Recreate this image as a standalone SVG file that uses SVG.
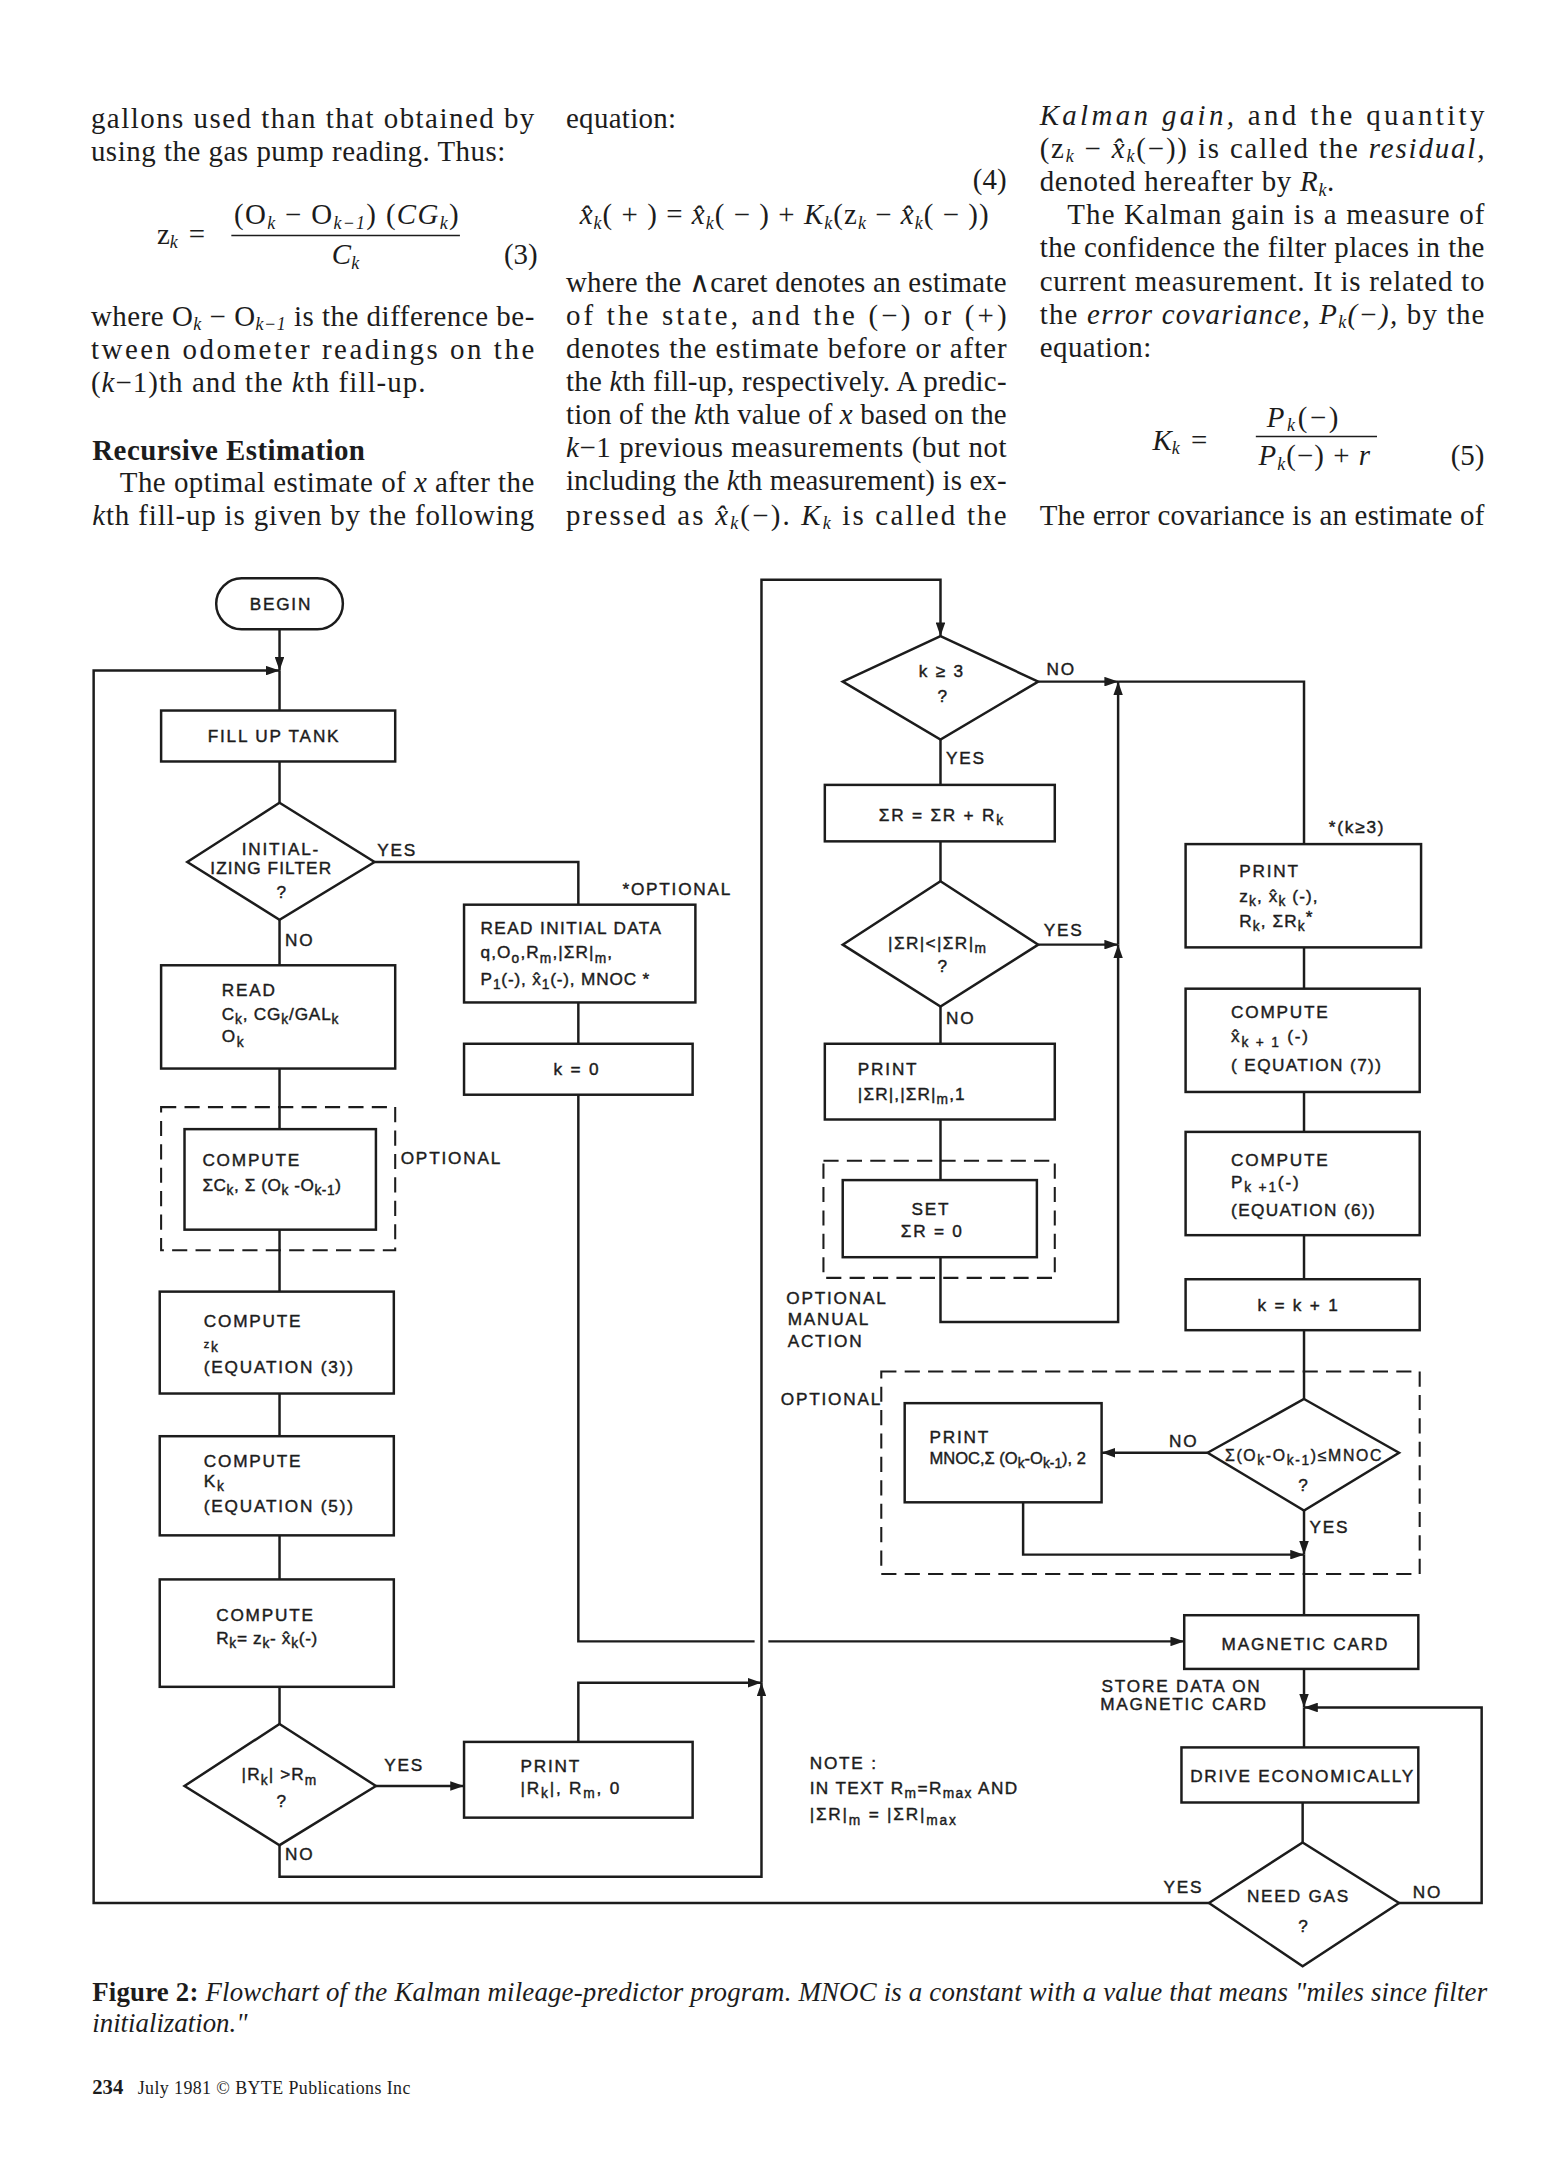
<svg xmlns="http://www.w3.org/2000/svg" width="1544" height="2160" viewBox="0 0 1544 2160">
<defs>
<style>
.b{font-family:"Liberation Serif","Times New Roman",serif;font-size:21px;fill:#1c1c1c}
.it{font-style:italic}
.sk{font-size:13px;font-style:italic}
.c{font-family:"Liberation Sans",Arial,sans-serif;font-size:12.5px;letter-spacing:1.3px;fill:#1c1c1c;stroke:#1c1c1c;stroke-width:0.3}
.cs{font-size:10px}
.n{fill:#fff;stroke:#1c1c1c;stroke-width:1.8}
.d{fill:none;stroke:#1c1c1c;stroke-width:1.5;stroke-dasharray:11 6}
.e{fill:none;stroke:#1c1c1c;stroke-width:1.8}
.a{marker-end:url(#ah)}
</style>
<marker id="ah" viewBox="0 0 10 7" refX="10" refY="3.5" markerWidth="10" markerHeight="7" orient="auto" markerUnits="userSpaceOnUse"><path d="M0,0 L10,3.5 L0,7 z" fill="#1c1c1c"/></marker>
</defs>
<rect width="1544" height="2160" fill="#fff"/>
<g transform="scale(1.377)">
<!-- body text column 1 -->
<g id="text-col1">
<text class="b" x="66" y="93" textLength="322" lengthAdjust="spacing">gallons used than that obtained by</text>
<text class="b" x="66" y="117" textLength="301" lengthAdjust="spacing">using the gas pump reading. Thus:</text>
<text class="b" x="114" y="177">z<tspan class="sk" dy="3">k</tspan><tspan dy="-3" x="137">=</tspan></text>
<text class="b" x="170" y="163" textLength="163" lengthAdjust="spacing">(O<tspan class="sk" dy="3">k</tspan><tspan dy="-3">  −  O</tspan><tspan class="sk" dy="3">k−1</tspan><tspan dy="-3">) (</tspan><tspan class="it">CG</tspan><tspan class="sk" dy="3">k</tspan><tspan dy="-3">)</tspan></text>
<line x1="168" y1="171" x2="334" y2="171" stroke="#1c1c1c" stroke-width="1.2"/>
<text class="b" x="241" y="192"><tspan class="it">C</tspan><tspan class="sk" dy="3">k</tspan></text>
<text class="b" x="366" y="192">(3)</text>
<text class="b" x="66" y="237" textLength="322" lengthAdjust="spacing">where O<tspan class="sk" dy="3">k</tspan><tspan dy="-3">  −  O</tspan><tspan class="sk" dy="3">k−1</tspan><tspan dy="-3"> is the difference be-</tspan></text>
<text class="b" x="66" y="261" textLength="322" lengthAdjust="spacing">tween odometer readings on the</text>
<text class="b" x="66" y="285" textLength="243" lengthAdjust="spacing">(<tspan class="it">k</tspan>−1)th and the <tspan class="it">k</tspan>th fill-up.</text>
<text class="b" x="67" y="334" style="font-weight:bold;font-size:21px" textLength="198" lengthAdjust="spacing">Recursive Estimation</text>
<text class="b" x="87" y="357" textLength="301" lengthAdjust="spacing">The optimal estimate of <tspan class="it">x</tspan> after the</text>
<text class="b" x="67" y="381" textLength="321" lengthAdjust="spacing"><tspan class="it">k</tspan>th fill-up is given by the following</text>
</g>
<!-- body text column 2 -->
<g id="text-col2">
<text class="b" x="411" y="93" textLength="80" lengthAdjust="spacing">equation:</text>
<text class="b" x="731" y="137" text-anchor="end">(4)</text>
<text class="b" x="421" y="163" textLength="297" lengthAdjust="spacing"><tspan class="it">x̂</tspan><tspan class="sk" dy="3">k</tspan><tspan dy="-3">( + )  =  </tspan><tspan class="it">x̂</tspan><tspan class="sk" dy="3">k</tspan><tspan dy="-3">( − )  +  </tspan><tspan class="it">K</tspan><tspan class="sk" dy="3">k</tspan><tspan dy="-3">(z</tspan><tspan class="sk" dy="3">k</tspan><tspan dy="-3">  −  </tspan><tspan class="it">x̂</tspan><tspan class="sk" dy="3">k</tspan><tspan dy="-3">( − ))</tspan></text>
<text class="b" x="411" y="212" textLength="320" lengthAdjust="spacing">where the ∧caret denotes an estimate</text>
<text class="b" x="411" y="236" textLength="320" lengthAdjust="spacing">of the state, and the (−) or (+)</text>
<text class="b" x="411" y="260" textLength="320" lengthAdjust="spacing">denotes the estimate before or after</text>
<text class="b" x="411" y="284" textLength="320" lengthAdjust="spacing">the <tspan class="it">k</tspan>th fill-up, respectively. A predic-</text>
<text class="b" x="411" y="308" textLength="320" lengthAdjust="spacing">tion of the <tspan class="it">k</tspan>th value of <tspan class="it">x</tspan> based on the</text>
<text class="b" x="411" y="332" textLength="320" lengthAdjust="spacing"><tspan class="it">k</tspan>−1 previous measurements (but not</text>
<text class="b" x="411" y="356" textLength="320" lengthAdjust="spacing">including the <tspan class="it">k</tspan>th measurement) is ex-</text>
<text class="b" x="411" y="381" textLength="320" lengthAdjust="spacing">pressed as <tspan class="it">x̂</tspan><tspan class="sk" dy="3">k</tspan><tspan dy="-3">(−).  </tspan><tspan class="it">K</tspan><tspan class="sk" dy="3">k</tspan><tspan dy="-3">  is called the</tspan></text>
</g>
<!-- body text column 3 -->
<g id="text-col3">
<text class="b" x="755" y="91" textLength="323" lengthAdjust="spacing"><tspan class="it">Kalman gain,</tspan> and the quantity</text>
<text class="b" x="755" y="115" textLength="323" lengthAdjust="spacing">(z<tspan class="sk" dy="3">k</tspan><tspan dy="-3"> − </tspan><tspan class="it">x̂</tspan><tspan class="sk" dy="3">k</tspan><tspan dy="-3">(−)) is called the </tspan><tspan class="it">residual,</tspan></text>
<text class="b" x="755" y="139" textLength="214" lengthAdjust="spacing">denoted hereafter by <tspan class="it">R</tspan><tspan class="sk" dy="3">k</tspan><tspan dy="-3">.</tspan></text>
<text class="b" x="775" y="163" textLength="303" lengthAdjust="spacing">The Kalman gain is a measure of</text>
<text class="b" x="755" y="187" textLength="323" lengthAdjust="spacing">the confidence the filter places in the</text>
<text class="b" x="755" y="211" textLength="323" lengthAdjust="spacing">current measurement. It is related to</text>
<text class="b" x="755" y="235" textLength="323" lengthAdjust="spacing">the <tspan class="it">error covariance, P</tspan><tspan class="sk" dy="3">k</tspan><tspan dy="-3" class="it">(−),</tspan> by the</text>
<text class="b" x="755" y="259" textLength="81" lengthAdjust="spacing">equation:</text>
<text class="b" x="837" y="327"><tspan class="it">K</tspan><tspan class="sk" dy="3">k</tspan><tspan dy="-3" x="865">=</tspan></text>
<text class="b" x="920" y="310" textLength="52" lengthAdjust="spacing"><tspan class="it">P</tspan><tspan class="sk" dy="3">k</tspan><tspan dy="-3">(−)</tspan></text>
<line x1="912" y1="317" x2="1000" y2="317" stroke="#1c1c1c" stroke-width="1.2"/>
<text class="b" x="914" y="338" textLength="81" lengthAdjust="spacing"><tspan class="it">P</tspan><tspan class="sk" dy="3">k</tspan><tspan dy="-3">(−) + </tspan><tspan class="it">r</tspan></text>
<text class="b" x="1078" y="338" text-anchor="end">(5)</text>
<text class="b" x="755" y="381" textLength="323" lengthAdjust="spacing">The error covariance is an estimate of</text>
</g>

<!-- connectors -->
<g id="connectors">
<path class="e a" d="M203 457 V487"/>
<path class="e a" d="M878 1382 H68 V487 H203"/>
<path class="e" d="M203 487 V516"/>
<path class="e" d="M203 553 V583"/>
<path class="e" d="M272 626 H420 V657"/>
<path class="e" d="M203 668 V701"/>
<path class="e" d="M203 776 V820"/>
<path class="e" d="M203 893 V938"/>
<path class="e" d="M203 1012 V1043"/>
<path class="e" d="M203 1115 V1147"/>
<path class="e" d="M203 1225 V1252"/>
<path class="e a" d="M273 1297 H337"/>
<path class="e a" d="M203 1340 V1363 H553 V1222"/>
<path class="e a" d="M420 1265 V1222 H553"/>
<path class="e a" d="M553 1222 V421 H683 V462"/>
<path class="e" d="M420 728 V758"/>
<path class="e" d="M420 795 V1192 H548"/>
<path class="e a" d="M558 1192 H860"/>
<path class="e a" d="M754 495 H812"/>
<path class="e" d="M812 495 H947 V613"/>
<path class="e" d="M683 537 V570"/>
<path class="e" d="M683 611 V640"/>
<path class="e a" d="M754 686 H812"/>
<path class="e" d="M683 731 V758"/>
<path class="e" d="M683 813 V857"/>
<path class="e a" d="M683 913 V960 H812 V686"/>
<path class="e a" d="M812 686 V495"/>
<path class="e" d="M947 688 V718"/>
<path class="e" d="M947 793 V822"/>
<path class="e" d="M947 897 V929"/>
<path class="e" d="M947 966 V1016"/>
<path class="e a" d="M877 1055 H800"/>
<path class="e a" d="M743 1091 V1129 H947"/>
<path class="e a" d="M947 1097 V1129"/>
<path class="e" d="M947 1129 V1173"/>
<path class="e a" d="M947 1212 V1240"/>
<path class="e" d="M947 1240 V1269"/>
<path class="e a" d="M1016 1382 H1076 V1240 H947"/>
<path class="e" d="M946 1309 V1338"/>
</g>

<!-- nodes -->
<g id="begin"><rect class="n" x="157" y="420" width="92" height="37" rx="18.5"/><text class="c" x="204" y="443" text-anchor="middle">BEGIN</text></g>
<g id="fill-up-tank"><rect class="n" x="117" y="516" width="170" height="37"/><text class="c" x="199" y="539" text-anchor="middle">FILL UP TANK</text></g>
<g id="initializing-filter"><polygon class="n" points="203,583 272,626 203,668 136,626"/><text class="c" x="204" y="621" text-anchor="middle">INITIAL-</text><text class="c" x="197" y="635" text-anchor="middle" style="letter-spacing:0.8px">IZING FILTER</text><text class="c" x="205" y="652" text-anchor="middle">?</text></g>
<g id="read-initial-data"><rect class="n" x="337" y="657" width="168" height="71"/><text class="c" x="349" y="678" style="letter-spacing:1px">READ INITIAL DATA</text><text class="c" x="349" y="696" style="letter-spacing:0.8px">q,O<tspan class="cs" dy="3">o</tspan><tspan dy="-3">,R</tspan><tspan class="cs" dy="3">m</tspan><tspan dy="-3">,|ΣR|</tspan><tspan class="cs" dy="3">m</tspan><tspan dy="-3">,</tspan></text><text class="c" x="349" y="715" style="letter-spacing:0.6px">P<tspan class="cs" dy="3">1</tspan><tspan dy="-3">(-), x̂</tspan><tspan class="cs" dy="3">1</tspan><tspan dy="-3">(-), MNOC *</tspan></text></g>
<g id="k-zero"><rect class="n" x="337" y="758" width="166" height="37"/><text class="c" x="419" y="781" text-anchor="middle">k = 0</text></g>
<g id="read"><rect class="n" x="117" y="701" width="170" height="75"/><text class="c" x="161" y="723">READ</text><text class="c" x="161" y="741" style="letter-spacing:0.6px">C<tspan class="cs" dy="3">k</tspan><tspan dy="-3">, CG</tspan><tspan class="cs" dy="3">k</tspan><tspan dy="-3">/GAL</tspan><tspan class="cs" dy="3">k</tspan></text><text class="c" x="161" y="757">O<tspan class="cs" dy="3">k</tspan></text></g>
<g id="compute-sums"><rect class="d" x="117" y="804" width="170" height="104"/><rect class="n" x="134" y="820" width="139" height="73"/><text class="c" x="147" y="847">COMPUTE</text><text class="c" x="147" y="865" style="letter-spacing:0.4px">ΣC<tspan class="cs" dy="3">k</tspan><tspan dy="-3">, Σ (O</tspan><tspan class="cs" dy="3">k</tspan><tspan dy="-3"> -O</tspan><tspan class="cs" dy="3">k-1</tspan><tspan dy="-3">)</tspan></text><text class="c" x="291" y="845">OPTIONAL</text></g>
<g id="compute-z"><rect class="n" x="116" y="938" width="170" height="74"/><text class="c" x="148" y="964">COMPUTE</text><text class="c" x="148" y="979"><tspan class="cs" style="font-size:8px">z</tspan><tspan dy="3" class="cs">k</tspan></text><text class="c" x="148" y="997">(EQUATION (3))</text></g>
<g id="compute-k"><rect class="n" x="116" y="1043" width="170" height="72"/><text class="c" x="148" y="1065">COMPUTE</text><text class="c" x="148" y="1080">K<tspan class="cs" dy="3">k</tspan></text><text class="c" x="148" y="1098">(EQUATION (5))</text></g>
<g id="compute-r"><rect class="n" x="116" y="1147" width="170" height="78"/><text class="c" x="157" y="1177">COMPUTE</text><text class="c" x="157" y="1194" style="letter-spacing:0.5px">R<tspan class="cs" dy="3">k</tspan><tspan dy="-3">= z</tspan><tspan class="cs" dy="3">k</tspan><tspan dy="-3">- x̂</tspan><tspan class="cs" dy="3">k</tspan><tspan dy="-3">(-)</tspan></text></g>
<g id="rk-greater-rm"><polygon class="n" points="203,1252 273,1297 203,1340 134,1297"/><text class="c" x="203" y="1293" text-anchor="middle" style="letter-spacing:0.8px">|R<tspan class="cs" dy="3">k</tspan><tspan dy="-3">| &gt;R</tspan><tspan class="cs" dy="3">m</tspan></text><text class="c" x="205" y="1312" text-anchor="middle">?</text></g>
<g id="print-rk"><rect class="n" x="337" y="1265" width="166" height="55"/><text class="c" x="378" y="1287">PRINT</text><text class="c" x="378" y="1303">|R<tspan class="cs" dy="3">k</tspan><tspan dy="-3">|, R</tspan><tspan class="cs" dy="3">m</tspan><tspan dy="-3">, 0</tspan></text></g>
<g id="k-ge-3"><polygon class="n" points="683,462 754,495 683,537 612,495"/><text class="c" x="684" y="492" text-anchor="middle">k ≥ 3</text><text class="c" x="685" y="510" text-anchor="middle">?</text></g>
<g id="sum-r"><rect class="n" x="599" y="570" width="167" height="41"/><text class="c" x="684" y="596" text-anchor="middle">ΣR = ΣR + R<tspan class="cs" dy="3">k</tspan></text></g>
<g id="sum-r-check"><polygon class="n" points="683,640 754,686 683,731 612,686"/><text class="c" x="681" y="689" text-anchor="middle" style="letter-spacing:1px">|ΣR|&lt;|ΣR|<tspan class="cs" dy="3">m</tspan></text><text class="c" x="685" y="706" text-anchor="middle">?</text></g>
<g id="print-sum-r"><rect class="n" x="599" y="758" width="167" height="55"/><text class="c" x="623" y="781">PRINT</text><text class="c" x="623" y="799" style="letter-spacing:0.8px">|ΣR|,|ΣR|<tspan class="cs" dy="3">m</tspan><tspan dy="-3">,1</tspan></text></g>
<g id="set-sum-r"><rect class="d" x="598" y="843" width="168" height="85"/><rect class="n" x="612" y="857" width="141" height="56"/><text class="c" x="676" y="882" text-anchor="middle">SET</text><text class="c" x="677" y="898" text-anchor="middle">ΣR = 0</text><text class="c" x="571" y="947">OPTIONAL</text><text class="c" x="572" y="962">MANUAL</text><text class="c" x="572" y="978">ACTION</text></g>
<g id="print-state"><rect class="n" x="861" y="613" width="171" height="75"/><text class="c" x="965" y="605">*(k≥3)</text><text class="c" x="900" y="637">PRINT</text><text class="c" x="900" y="655" style="letter-spacing:0.8px">z<tspan class="cs" dy="3">k</tspan><tspan dy="-3">, x̂</tspan><tspan class="cs" dy="3">k</tspan><tspan dy="-3"> (-),</tspan></text><text class="c" x="900" y="673" style="letter-spacing:0.8px">R<tspan class="cs" dy="3">k</tspan><tspan dy="-3">, ΣR</tspan><tspan class="cs" dy="3">k</tspan><tspan dy="-6">*</tspan></text></g>
<g id="compute-x"><rect class="n" x="861" y="718" width="170" height="75"/><text class="c" x="894" y="739">COMPUTE</text><text class="c" x="894" y="757">x̂<tspan class="cs" dy="3">k + 1</tspan><tspan dy="-3"> (-)</tspan></text><text class="c" x="894" y="778" style="letter-spacing:1px">( EQUATION (7))</text></g>
<g id="compute-p"><rect class="n" x="861" y="822" width="170" height="75"/><text class="c" x="894" y="847">COMPUTE</text><text class="c" x="894" y="863">P<tspan class="cs" dy="3">k +1</tspan><tspan dy="-3">(-)</tspan></text><text class="c" x="894" y="883" style="letter-spacing:1px">(EQUATION (6))</text></g>
<g id="k-increment"><rect class="n" x="861" y="929" width="170" height="37"/><text class="c" x="943" y="952" text-anchor="middle">k = k + 1</text></g>
<g id="mnoc-check"><rect class="d" x="640" y="996" width="391" height="147"/><text class="c" x="567" y="1020">OPTIONAL</text><polygon class="n" points="947,1016 1016,1055 947,1097 877,1055"/><text class="c" x="947" y="1061" text-anchor="middle" style="letter-spacing:1.2px;font-size:11.5px">Σ(O<tspan class="cs" dy="3">k</tspan><tspan dy="-3">-O</tspan><tspan class="cs" dy="3">k-1</tspan><tspan dy="-3">)≤MNOC</tspan></text><text class="c" x="947" y="1083" text-anchor="middle">?</text></g>
<g id="print-mnoc"><rect class="n" x="657" y="1019" width="143" height="72"/><text class="c" x="675" y="1048">PRINT</text><text class="c" x="675" y="1063" style="letter-spacing:0px;font-size:12px">MNOC,Σ (O<tspan class="cs" dy="3">k</tspan><tspan dy="-3">-O</tspan><tspan class="cs" dy="3">k-1</tspan><tspan dy="-3">), 2</tspan></text></g>
<g id="magnetic-card"><rect class="n" x="860" y="1173" width="170" height="39"/><text class="c" x="948" y="1198" text-anchor="middle">MAGNETIC CARD</text><text class="c" x="800" y="1229">STORE DATA ON</text><text class="c" x="799" y="1242">MAGNETIC CARD</text></g>
<g id="drive-economically"><rect class="n" x="858" y="1269" width="172" height="40"/><text class="c" x="946" y="1294" text-anchor="middle">DRIVE ECONOMICALLY</text></g>
<g id="need-gas"><polygon class="n" points="946,1338 1016,1382 946,1428 878,1382"/><text class="c" x="943" y="1381" text-anchor="middle">NEED GAS</text><text class="c" x="947" y="1403" text-anchor="middle">?</text></g>
<g id="note"><text class="c" x="588" y="1285">NOTE :</text><text class="c" x="588" y="1303" style="letter-spacing:1px">IN TEXT R<tspan class="cs" dy="3">m</tspan><tspan dy="-3">=R</tspan><tspan class="cs" dy="3">max</tspan><tspan dy="-3"> AND</tspan></text><text class="c" x="588" y="1322">|ΣR|<tspan class="cs" dy="3">m</tspan><tspan dy="-3"> = |ΣR|</tspan><tspan class="cs" dy="3">max</tspan></text></g>
<g id="labels">
<text class="c" x="274" y="622">YES</text>
<text class="c" x="452" y="650">*OPTIONAL</text>
<text class="c" x="207" y="687">NO</text>
<text class="c" x="279" y="1286">YES</text>
<text class="c" x="207" y="1351">NO</text>
<text class="c" x="760" y="490">NO</text>
<text class="c" x="687" y="555">YES</text>
<text class="c" x="758" y="680">YES</text>
<text class="c" x="687" y="744">NO</text>
<text class="c" x="849" y="1051">NO</text>
<text class="c" x="951" y="1113">YES</text>
<text class="c" x="845" y="1375">YES</text>
<text class="c" x="1026" y="1378">NO</text>
</g>
<!-- caption -->
<g id="caption">
<text class="b" x="67" y="1453" style="font-size:19.5px" textLength="1013" lengthAdjust="spacing"><tspan style="font-weight:bold">Figure 2:</tspan> <tspan class="it">Flowchart of the Kalman mileage-predictor program. MNOC is a constant with a value that means "miles since filter</tspan></text>
<text class="b it" x="67" y="1476" style="font-size:19.5px">initialization."</text>
<text class="b" x="67" y="1521" style="font-size:15px;font-weight:bold">234</text>
<text class="b" x="100" y="1521" style="font-size:13px" textLength="198" lengthAdjust="spacing">July 1981 © BYTE Publications Inc</text>
</g>
</g>
</svg>
